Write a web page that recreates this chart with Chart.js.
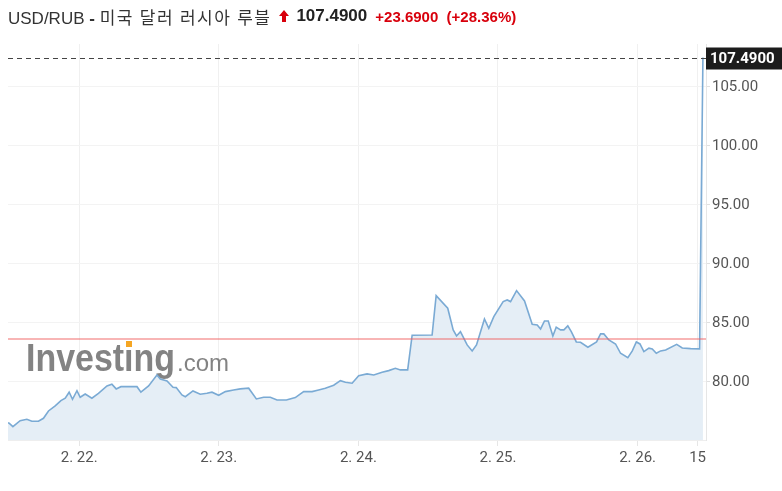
<!DOCTYPE html>
<html>
<head>
<meta charset="utf-8">
<script src="https://cdn.jsdelivr.net/npm/chart.js@4"></script>
<style>
  html, body { margin: 0; padding: 0; background: #fff; }
  #wrap { position: relative; width: 782px; height: 491px; }
  #title {
    position: absolute; left: 8px; top: 4px; height: 24px;
    display: flex; align-items: center; white-space: nowrap;
    font-family: "Liberation Sans", Arial, "Noto Sans CJK KR", sans-serif;
  }
  #title .name { font-size: 17px; color: #333; }
  #title .name b { font-weight: bold; }
  #title .name .ko { letter-spacing: 1.4px; }
  #title svg { margin: 0 7px 0 8px; }
  #title .last { font-size: 17px; font-weight: bold; color: #222; }
  #title .chg { font-size: 15px; font-weight: bold; color: #d8000c; margin-left: 8px; }
  canvas { position: absolute; left: 0; top: 0; }
</style>
</head>
<body>
<div id="wrap">
  <canvas id="chart" width="782" height="491"></canvas>
  <div id="title">
    <span class="name">USD/RUB <b>-</b> <span class="ko">미국 달러 러시아 루블</span></span>
    <svg width="10" height="12" viewBox="0 0 10 12"><path d="M5 0 L10 6 L7 6 L7 12 L3 12 L3 6 L0 6 Z" fill="#d8000c"/></svg>
    <span class="last">107.4900</span>
    <span class="chg">+23.6900 &nbsp;(+28.36%)</span>
  </div>
</div>
<script>
// time in days (2.22 = 22), price in RUB
const dayPos = [21.49, 21.498, 21.525, 21.577, 21.625, 21.661, 21.708, 21.744, 21.780, 21.828, 21.869, 21.900,
  21.928, 21.952, 21.984, 22.007, 22.043, 22.091, 22.138, 22.199, 22.234, 22.265, 22.299, 22.414,
  22.442, 22.497, 22.557, 22.581, 22.629, 22.672, 22.695, 22.736, 22.760, 22.815, 22.867, 22.915,
  22.951, 22.999, 23.047, 23.106, 23.154, 23.214, 23.269, 23.321, 23.369, 23.417, 23.484, 23.548,
  23.608, 23.668, 23.715, 23.763, 23.823, 23.871, 23.907, 23.955, 24.002, 24.062, 24.110, 24.170,
  24.217, 24.265, 24.301, 24.353, 24.385, 24.528, 24.557, 24.640, 24.679, 24.703, 24.731, 24.779,
  24.815, 24.846, 24.903, 24.934, 24.970, 25.037, 25.066, 25.090, 25.133, 25.190, 25.245, 25.281,
  25.305, 25.333, 25.360, 25.393, 25.417, 25.448, 25.472, 25.500, 25.525, 25.561, 25.591, 25.644,
  25.706, 25.735, 25.758, 25.794, 25.842, 25.878, 25.930, 25.962, 25.991, 26.017, 26.045, 26.081,
  26.105, 26.134, 26.165, 26.201, 26.280, 26.320, 26.380, 26.444, 26.468];
const usdRub = [76.55, 76.50, 76.21, 76.72, 76.84, 76.67, 76.67, 76.92, 77.54, 77.97, 78.42, 78.62,
  79.13, 78.53, 79.26, 78.70, 78.98, 78.62, 79.04, 79.66, 79.81, 79.41, 79.60, 79.60,
  79.13, 79.66, 80.59, 80.25, 80.08, 79.55, 79.52, 78.90, 78.75, 79.24, 78.96, 79.04,
  79.13, 78.87, 79.18, 79.32, 79.41, 79.47, 78.56, 78.70, 78.70, 78.47, 78.47, 78.67,
  79.18, 79.18, 79.32, 79.47, 79.72, 80.11, 79.97, 79.89, 80.53, 80.68, 80.59, 80.82,
  80.96, 81.16, 81.02, 81.02, 83.96, 83.98, 87.31, 86.25, 84.41, 83.90, 84.26, 83.14,
  82.63, 83.14, 85.34, 84.55, 85.53, 86.81, 86.95, 86.81, 87.74, 86.86, 84.89, 84.83,
  84.49, 85.17, 85.17, 83.90, 84.64, 84.41, 84.41, 84.75, 84.26, 83.39, 83.36, 82.94,
  83.39, 84.07, 84.07, 83.56, 83.22, 82.43, 82.06, 82.63, 83.39, 83.22, 82.57, 82.86,
  82.80, 82.43, 82.63, 82.71, 83.19, 82.88, 82.82, 82.80, 107.49];
const prevClose = 83.65;
const lastPrice = 107.49;
const xTickPos = [22, 23, 24, 25, 26, 26.43];
const xTickLabels = ["2. 22.", "2. 23.", "2. 24.", "2. 25.", "2. 26.", "15"];
const yTickValues = [80, 85, 90, 95, 100, 105];

const extras = {
  id: "extras",
  beforeDatasetsDraw(chart) {
    const { ctx } = chart;
    ctx.save();
    // watermark logo: "Invest" + dotless i with orange dot + "ng"
    ctx.fillStyle = "rgba(118,118,118,0.9)";
    ctx.textBaseline = "alphabetic";
    ctx.font = "bold 38px 'Liberation Sans', Arial, sans-serif";
    const word = "Invest\u0131ng";
    const w = ctx.measureText(word).width;
    const k = 149 / w;
    const pre = ctx.measureText("Invest").width * k;
    const iw = ctx.measureText("\u0131").width * k;
    ctx.save();
    ctx.translate(26, 371);
    ctx.scale(k, 1);
    ctx.fillText(word, 0, 0);
    ctx.restore();
    ctx.font = "24px 'Liberation Sans', Arial, sans-serif";
    ctx.fillText(".com", 177, 371);
    ctx.fillStyle = "#f5a623";
    ctx.fillRect(Math.round(26 + pre + iw / 2 - 3), 341, 6, 6);
    ctx.restore();
  },
  afterDatasetsDraw(chart) {
    const { ctx, chartArea: a, scales: { y } } = chart;
    ctx.save();
    // previous close
    ctx.fillStyle = "rgba(240, 90, 90, 0.45)";
    ctx.fillRect(a.left, Math.round(y.getPixelForValue(prevClose)) - 1, a.right - a.left, 2);
    // last price
    const ly = Math.round(y.getPixelForValue(lastPrice)) + 0.5;
    ctx.strokeStyle = "#444";
    ctx.lineWidth = 1;
    ctx.setLineDash([5, 4]);
    ctx.beginPath();
    ctx.moveTo(a.left, ly);
    ctx.lineTo(a.right, ly);
    ctx.stroke();
    ctx.setLineDash([]);
    ctx.fillStyle = "#1c1c1c";
    ctx.fillRect(a.right, ly - 11, 782 - a.right, 22);
    ctx.fillStyle = "#fff";
    ctx.font = "bold 15px Roboto, sans-serif";
    ctx.textAlign = "left";
    ctx.textBaseline = "middle";
    ctx.fillText(lastPrice.toFixed(4), a.right + 4, ly + 1);
    ctx.restore();
  }
};

new Chart(document.getElementById("chart"), {
  type: "line",
  data: {
    datasets: [{
      data: dayPos.map((d, i) => ({ x: d, y: usdRub[i] })),
      borderColor: "#7aaad4",
      borderWidth: 1.6,
      backgroundColor: "#e5eef6",
      fill: "start",
      pointRadius: 0,
      tension: 0
    }]
  },
  options: {
    responsive: false,
    animation: false,
    devicePixelRatio: 1,
    layout: { padding: { left: 8, top: 44, right: 0, bottom: 0 } },
    plugins: { legend: { display: false }, tooltip: { enabled: false } },
    scales: {
      x: {
        type: "linear",
        min: 21.49,
        max: 26.49,
        afterBuildTicks: (s) => { s.ticks = xTickPos.map(v => ({ value: v })); },
        afterFit: (s) => { s.height = 51; },
        ticks: {
          callback: (v) => xTickLabels[xTickPos.indexOf(v)],
          color: "#555",
          font: { family: "Roboto", size: 15 },
          maxRotation: 0,
          autoSkip: false,
          padding: 3
        },
        grid: { color: "#f0f0f0", tickColor: "#e6e6e6", tickLength: 6 },
        border: { color: "#eeeeee" }
      },
      y: {
        position: "right",
        min: 75.08,
        max: 108.64,
        afterBuildTicks: (s) => { s.ticks = yTickValues.map(v => ({ value: v })); },
        afterFit: (s) => { s.width = 76; },
        ticks: {
          callback: (v) => v.toFixed(2),
          color: "#555",
          font: { family: "Roboto", size: 15 },
          padding: 2
        },
        grid: { color: "#f3f3f3", tickColor: "#e0e0e0", tickLength: 4 },
        border: { color: "#e6e6e6" }
      }
    }
  },
  plugins: [extras]
});
</script>
</body>
</html>
